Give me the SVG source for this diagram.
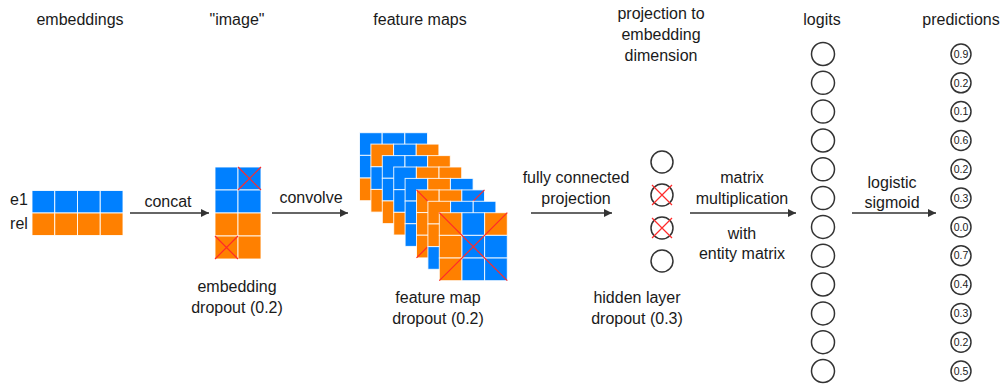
<svg xmlns="http://www.w3.org/2000/svg" width="1005" height="384" viewBox="0 0 1005 384">
  <defs>
    <style>
      .b{fill:#0080ff}
      .o{fill:#ff8000}
      .grid rect{stroke:#ffffff;stroke-opacity:0.85;stroke-width:1}
      .x{stroke:#ff2a2a;stroke-width:1.2;fill:none}
      .lbl{font-family:"Liberation Sans",Arial,sans-serif;font-size:16px;fill:#1a1a1a;text-anchor:middle}
      .val{font-family:"Liberation Sans",Arial,sans-serif;font-size:10.5px;fill:#1a1a1a;text-anchor:middle}
      .unit{fill:#ffffff;stroke:#333333;stroke-width:1.5}
      .conn line{stroke:#333333;stroke-width:1.5;marker-end:url(#ah)}
    </style>
    <marker id="ah" viewBox="0 0 10 10" refX="10" refY="5" markerUnits="userSpaceOnUse" markerWidth="9" markerHeight="8" orient="auto">
      <path d="M0,0 L10,5 L0,10 z" fill="#333333"/>
    </marker>
  </defs>

  <rect width="1005" height="384" fill="#ffffff"/>

  <!-- column titles -->
  <g id="titles">
    <text class="lbl" x="80" y="25">embeddings</text>
    <text class="lbl" x="237" y="25">"image"</text>
    <text class="lbl" x="420" y="25">feature maps</text>
    <text class="lbl" x="661" y="19">projection to</text>
    <text class="lbl" x="661" y="40">embedding</text>
    <text class="lbl" x="661" y="61">dimension</text>
    <text class="lbl" x="822" y="25">logits</text>
    <text class="lbl" x="961" y="25">predictions</text>
  </g>

  <!-- e1 / rel embedding rows -->
  <g id="embeddings">
    <text class="lbl" x="19" y="205">e1</text>
    <text class="lbl" x="19" y="229">rel</text>
    <g class="grid">
      <rect class="b" x="32" y="190.5" width="22.75" height="22.5"/>
      <rect class="b" x="54.75" y="190.5" width="22.75" height="22.5"/>
      <rect class="b" x="77.5" y="190.5" width="22.75" height="22.5"/>
      <rect class="b" x="100.25" y="190.5" width="22.75" height="22.5"/>
      <rect class="o" x="32" y="213" width="22.75" height="22.5"/>
      <rect class="o" x="54.75" y="213" width="22.75" height="22.5"/>
      <rect class="o" x="77.5" y="213" width="22.75" height="22.5"/>
      <rect class="o" x="100.25" y="213" width="22.75" height="22.5"/>
    </g>
  </g>

  <!-- reshaped 2D "image" with embedding dropout -->
  <g id="image">
    <g class="grid">
      <rect class="b" x="215" y="167" width="23" height="23"/>
      <rect class="b" x="238" y="167" width="23" height="23"/>
      <rect class="b" x="215" y="190" width="23" height="23"/>
      <rect class="b" x="238" y="190" width="23" height="23"/>
      <rect class="o" x="215" y="213" width="23" height="23"/>
      <rect class="o" x="238" y="213" width="23" height="23"/>
      <rect class="o" x="215" y="236" width="23" height="23"/>
      <rect class="o" x="238" y="236" width="23" height="23"/>
    </g>
    <path class="x" d="M238,167 L261,190 M261,167 L238,190"/>
    <path class="x" d="M215,236 L238,259 M238,236 L215,259"/>
    <text class="lbl" x="237" y="292">embedding</text>
    <text class="lbl" x="237" y="313">dropout (0.2)</text>
  </g>

  <!-- stacked feature maps, back to front -->
  <g id="feature-maps">
    <g class="grid" transform="translate(359.5,132.7)">
      <rect class="b" x="0" y="0" width="22.67" height="22.67"/>
      <rect class="b" x="22.67" y="0" width="22.67" height="22.67"/>
      <rect class="b" x="45.33" y="0" width="22.67" height="22.67"/>
      <rect class="b" x="0" y="22.67" width="22.67" height="22.67"/>
      <rect class="o" x="0" y="45.33" width="22.67" height="22.67"/>
    </g>
    <g class="grid" transform="translate(370.9,144.1)">
      <rect class="o" x="0" y="0" width="22.67" height="22.67"/>
      <rect class="b" x="22.67" y="0" width="22.67" height="22.67"/>
      <rect class="o" x="45.33" y="0" width="22.67" height="22.67"/>
      <rect class="b" x="0" y="22.67" width="22.67" height="22.67"/>
      <rect class="o" x="0" y="45.33" width="22.67" height="22.67"/>
    </g>
    <g class="grid" transform="translate(382.3,155.6)">
      <rect class="b" x="0" y="0" width="22.67" height="22.67"/>
      <rect class="b" x="22.67" y="0" width="22.67" height="22.67"/>
      <rect class="o" x="45.33" y="0" width="22.67" height="22.67"/>
      <rect class="b" x="0" y="22.67" width="22.67" height="22.67"/>
      <rect class="o" x="0" y="45.33" width="22.67" height="22.67"/>
    </g>
    <g class="grid" transform="translate(393.7,167)">
      <rect class="b" x="0" y="0" width="22.67" height="22.67"/>
      <rect class="o" x="22.67" y="0" width="22.67" height="22.67"/>
      <rect class="o" x="45.33" y="0" width="22.67" height="22.67"/>
      <rect class="b" x="0" y="22.67" width="22.67" height="22.67"/>
      <rect class="o" x="0" y="45.33" width="22.67" height="22.67"/>
    </g>
    <g class="grid" transform="translate(405.1,178.4)">
      <rect class="b" x="0" y="0" width="22.67" height="22.67"/>
      <rect class="o" x="22.67" y="0" width="22.67" height="22.67"/>
      <rect class="b" x="45.33" y="0" width="22.67" height="22.67"/>
      <rect class="b" x="0" y="22.67" width="22.67" height="22.67"/>
      <rect class="b" x="0" y="45.33" width="22.67" height="22.67"/>
    </g>
    <g transform="translate(416.5,189.9)">
      <g class="grid">
        <rect class="o" x="0" y="0" width="22.67" height="22.67"/>
        <rect class="o" x="22.67" y="0" width="22.67" height="22.67"/>
        <rect class="b" x="45.33" y="0" width="22.67" height="22.67"/>
        <rect class="o" x="0" y="22.67" width="22.67" height="22.67"/>
        <rect class="o" x="0" y="45.33" width="22.67" height="22.67"/>
      </g>
      <path class="x" d="M0,0 L68,68 M68,0 L0,68"/>
    </g>
    <g class="grid" transform="translate(427.9,201.3)">
      <rect class="o" x="0" y="0" width="22.67" height="22.67"/>
      <rect class="b" x="22.67" y="0" width="22.67" height="22.67"/>
      <rect class="b" x="45.33" y="0" width="22.67" height="22.67"/>
      <rect class="o" x="0" y="22.67" width="22.67" height="22.67"/>
      <rect class="b" x="0" y="45.33" width="22.67" height="22.67"/>
    </g>
    <g transform="translate(439.3,212.7)">
      <g class="grid">
        <rect class="o" x="0" y="0" width="22.67" height="22.67"/>
        <rect class="b" x="22.67" y="0" width="22.67" height="22.67"/>
        <rect class="o" x="45.33" y="0" width="22.67" height="22.67"/>
        <rect class="o" x="0" y="22.67" width="22.67" height="22.67"/>
        <rect class="b" x="22.67" y="22.67" width="22.67" height="22.67"/>
        <rect class="b" x="45.33" y="22.67" width="22.67" height="22.67"/>
        <rect class="o" x="0" y="45.33" width="22.67" height="22.67"/>
        <rect class="b" x="22.67" y="45.33" width="22.67" height="22.67"/>
        <rect class="b" x="45.33" y="45.33" width="22.67" height="22.67"/>
      </g>
      <path class="x" d="M0,0 L68,68 M68,0 L0,68"/>
    </g>
    <text class="lbl" x="438" y="303">feature map</text>
    <text class="lbl" x="438" y="324">dropout (0.2)</text>
  </g>

  <!-- hidden layer with dropout -->
  <g id="hidden-layer">
    <circle class="unit" cx="662" cy="162" r="11"/>
    <circle class="unit" cx="662" cy="195" r="11"/>
    <circle class="unit" cx="662" cy="228" r="11"/>
    <circle class="unit" cx="662" cy="261" r="11"/>
    <path class="x" d="M652,185 L672,205 M672,185 L652,205"/>
    <path class="x" d="M652,218 L672,238 M672,218 L652,238"/>
    <text class="lbl" x="637" y="303">hidden layer</text>
    <text class="lbl" x="637" y="324">dropout (0.3)</text>
  </g>

  <!-- logits -->
  <g id="logits">
    <circle class="unit" cx="823" cy="54" r="11.5"/>
    <circle class="unit" cx="823" cy="82.8" r="11.5"/>
    <circle class="unit" cx="823" cy="111.6" r="11.5"/>
    <circle class="unit" cx="823" cy="140.5" r="11.5"/>
    <circle class="unit" cx="823" cy="169.3" r="11.5"/>
    <circle class="unit" cx="823" cy="198.1" r="11.5"/>
    <circle class="unit" cx="823" cy="226.9" r="11.5"/>
    <circle class="unit" cx="823" cy="255.7" r="11.5"/>
    <circle class="unit" cx="823" cy="284.5" r="11.5"/>
    <circle class="unit" cx="823" cy="313.4" r="11.5"/>
    <circle class="unit" cx="823" cy="342.2" r="11.5"/>
    <circle class="unit" cx="823" cy="371" r="11.5"/>
  </g>

  <!-- predictions -->
  <g id="predictions">
    <circle class="unit" cx="961" cy="54" r="10"/><text class="val" x="961" y="57.7">0.9</text>
    <circle class="unit" cx="961" cy="82.8" r="10"/><text class="val" x="961" y="86.5">0.2</text>
    <circle class="unit" cx="961" cy="111.6" r="10"/><text class="val" x="961" y="115.3">0.1</text>
    <circle class="unit" cx="961" cy="140.5" r="10"/><text class="val" x="961" y="144.2">0.6</text>
    <circle class="unit" cx="961" cy="169.3" r="10"/><text class="val" x="961" y="173">0.2</text>
    <circle class="unit" cx="961" cy="198.1" r="10"/><text class="val" x="961" y="201.8">0.3</text>
    <circle class="unit" cx="961" cy="226.9" r="10"/><text class="val" x="961" y="230.6">0.0</text>
    <circle class="unit" cx="961" cy="255.7" r="10"/><text class="val" x="961" y="259.4">0.7</text>
    <circle class="unit" cx="961" cy="284.5" r="10"/><text class="val" x="961" y="288.2">0.4</text>
    <circle class="unit" cx="961" cy="313.4" r="10"/><text class="val" x="961" y="317.1">0.3</text>
    <circle class="unit" cx="961" cy="342.2" r="10"/><text class="val" x="961" y="345.9">0.2</text>
    <circle class="unit" cx="961" cy="371" r="10"/><text class="val" x="961" y="374.7">0.5</text>
  </g>

  <!-- connectors between stages -->
  <g id="connectors" class="conn">
    <line x1="130" y1="213" x2="209" y2="213"/>
    <line x1="272" y1="213" x2="348" y2="213"/>
    <line x1="531" y1="213" x2="612" y2="213"/>
    <line x1="690" y1="213" x2="796" y2="213"/>
    <line x1="852" y1="213" x2="936" y2="213"/>
  </g>
  <g id="connector-labels">
    <text class="lbl" x="168" y="207">concat</text>
    <text class="lbl" x="311" y="203">convolve</text>
    <text class="lbl" x="576" y="183">fully connected</text>
    <text class="lbl" x="576" y="204">projection</text>
    <text class="lbl" x="742" y="183">matrix</text>
    <text class="lbl" x="742" y="204">multiplication</text>
    <text class="lbl" x="742" y="239">with</text>
    <text class="lbl" x="742" y="259">entity matrix</text>
    <text class="lbl" x="892" y="188">logistic</text>
    <text class="lbl" x="892" y="208">sigmoid</text>
  </g>
</svg>
